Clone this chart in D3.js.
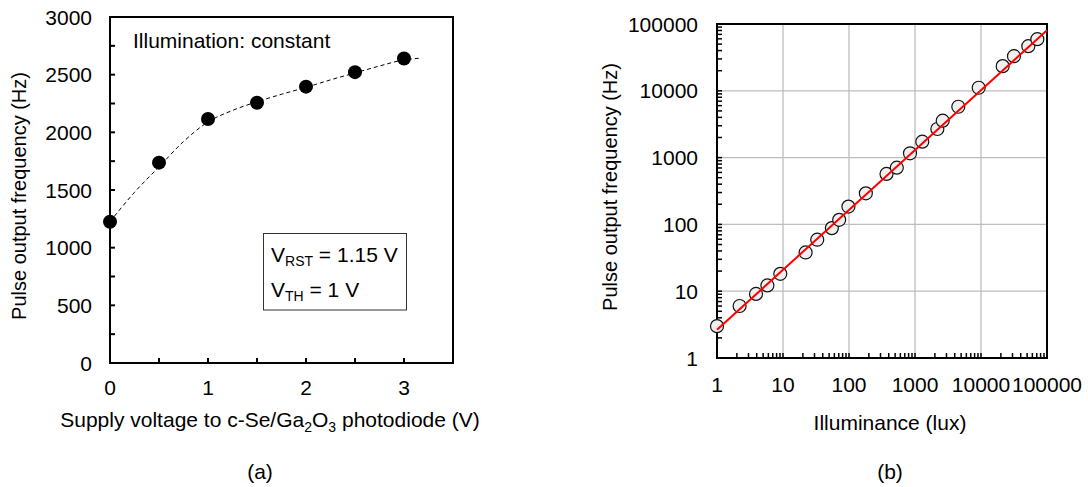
<!DOCTYPE html>
<html>
<head>
<meta charset="utf-8">
<script src="https://cdn.jsdelivr.net/npm/d3@7"></script>
<style>
  body { margin: 0; background: #fff; }
  svg { font-family: "Liberation Sans", Arial, sans-serif; }
</style>
</head>
<body>
<svg width="1088" height="487"></svg>
<script>
// Data (a): frequency vs supply voltage
var voltage = [0, 0.5, 1, 1.5, 2, 2.5, 3];
var freqA = [1225, 1737, 2115, 2257, 2396, 2522, 2640];
// dashed guide curve
var fitVoltage = [0, 0.25, 0.5, 0.75, 1, 1.25, 1.5, 1.75, 2, 2.25, 2.5, 2.75, 3, 3.15];
var fitFreqA = [1225, 1480, 1700, 1920, 2090, 2190, 2265, 2330, 2390, 2455, 2515, 2575, 2628, 2642];
var ticksA_x = [0, 1, 2, 3];
var ticksA_y = [0, 500, 1000, 1500, 2000, 2500, 3000];

// Data (b): frequency vs illuminance
var lux = [1, 2.2, 3.9, 5.8, 9.1, 22, 33, 55, 71, 98, 180, 370, 530, 840, 1290, 2180, 2630, 4530, 9230, 21300, 31600, 52100, 71300];
var freqB = [3.0, 6.0, 9.1, 12.2, 18.2, 38, 59, 88, 117, 185, 292, 570, 707, 1160, 1730, 2680, 3570, 5770, 11100, 23400, 33000, 46600, 59300];
var fitLux = [1, 100000];
var fitFreqB = [2.65, 80700];
var decades = [1, 10, 100, 1000, 10000, 100000];

var svg = d3.select("svg");

// ---------- panel (a) ----------
var xA = d3.scaleLinear().domain([0, 3.5]).range([110, 453]);
var yA = d3.scaleLinear().domain([0, 3000]).range([363, 17]);

var gA = svg.append("g");

// minor + major ticks, inside
gA.selectAll(".xt").data(d3.range(0.5, 3.5, 0.5)).enter().append("line")
  .attr("x1", d => xA(d)).attr("x2", d => xA(d))
  .attr("y1", yA(0)).attr("y2", yA(0) - 5)
  .attr("stroke", "#000").attr("stroke-width", 2);
gA.selectAll(".yt").data(d3.range(250, 3000, 250)).enter().append("line")
  .attr("x1", xA(0)).attr("x2", xA(0) + 5)
  .attr("y1", d => yA(d)).attr("y2", d => yA(d))
  .attr("stroke", "#000").attr("stroke-width", 2);

gA.append("rect")
  .attr("x", xA(0)).attr("y", yA(3000))
  .attr("width", xA(3.5) - xA(0)).attr("height", yA(0) - yA(3000))
  .attr("fill", "none").attr("stroke", "#000").attr("stroke-width", 2);

gA.selectAll(".xl").data(ticksA_x).enter().append("text")
  .attr("x", d => xA(d)).attr("y", 395)
  .attr("text-anchor", "middle").attr("font-size", 21)
  .text(d => d);
gA.selectAll(".yl").data(ticksA_y).enter().append("text")
  .attr("x", 92).attr("y", d => yA(d)).attr("dy", "0.36em")
  .attr("text-anchor", "end").attr("font-size", 21)
  .text(d => d);

// dashed curve
var fitA = fitVoltage.map((v, i) => [v, fitFreqA[i]]);
gA.append("path")
  .datum(fitA)
  .attr("d", d3.line().x(d => xA(d[0])).y(d => yA(d[1])).curve(d3.curveMonotoneX))
  .attr("fill", "none").attr("stroke", "#000").attr("stroke-width", 1)
  .attr("stroke-dasharray", "4,3");

gA.selectAll(".dot").data(voltage).enter().append("circle")
  .attr("cx", d => xA(d)).attr("cy", (d, i) => yA(freqA[i]))
  .attr("r", 7).attr("fill", "#000");

gA.append("text")
  .attr("x", 133).attr("y", 48).attr("font-size", 21)
  .text("Illumination: constant");

// parameter box
gA.append("rect")
  .attr("x", 263.5).attr("y", 233.5).attr("width", 143).attr("height", 76.5)
  .attr("fill", "#fff").attr("stroke", "#333").attr("stroke-width", 1);
var t1 = gA.append("text").attr("x", 271).attr("y", 262).attr("font-size", 21);
t1.append("tspan").text("V");
t1.append("tspan").attr("font-size", 14).attr("dy", 4).text("RST");
t1.append("tspan").attr("dy", -4).text(" = 1.15 V");
var t2 = gA.append("text").attr("x", 271).attr("y", 297).attr("font-size", 21);
t2.append("tspan").text("V");
t2.append("tspan").attr("font-size", 14).attr("dy", 4).text("TH");
t2.append("tspan").attr("dy", -4).text(" = 1 V");

var xlabA = gA.append("text")
  .attr("x", 270).attr("y", 427).attr("text-anchor", "middle").attr("font-size", 21);
xlabA.append("tspan").text("Supply voltage to c-Se/Ga");
xlabA.append("tspan").attr("font-size", 14).attr("dy", 5).text("2");
xlabA.append("tspan").attr("dy", -5).text("O");
xlabA.append("tspan").attr("font-size", 14).attr("dy", 5).text("3");
xlabA.append("tspan").attr("dy", -5).text(" photodiode (V)");

gA.append("text")
  .attr("transform", "translate(26,196) rotate(-90)")
  .attr("text-anchor", "middle").attr("font-size", 20)
  .text("Pulse output frequency (Hz)");

gA.append("text")
  .attr("x", 260).attr("y", 479).attr("text-anchor", "middle").attr("font-size", 21)
  .text("(a)");

// ---------- panel (b) ----------
var xB = d3.scaleLog().domain([1, 100000]).range([717, 1047]);
var yB = d3.scaleLog().domain([1, 100000]).range([358, 24]);

var gB = svg.append("g");

// grid
gB.selectAll(".gx").data(decades.slice(1, -1)).enter().append("line")
  .attr("x1", d => xB(d)).attr("x2", d => xB(d))
  .attr("y1", yB(1)).attr("y2", yB(100000))
  .attr("stroke", "#bdbdbd").attr("stroke-width", 1.3);
gB.selectAll(".gy").data(decades.slice(1, -1)).enter().append("line")
  .attr("x1", xB(1)).attr("x2", xB(100000))
  .attr("y1", d => yB(d)).attr("y2", d => yB(d))
  .attr("stroke", "#bdbdbd").attr("stroke-width", 1.3);

// log ticks inside
var logTicks = [];
decades.slice(0, -1).forEach(function (d) {
  for (var k = 2; k <= 10; k++) logTicks.push(d * k);
});
gB.selectAll(".bxt").data(logTicks).enter().append("line")
  .attr("x1", d => xB(d)).attr("x2", d => xB(d))
  .attr("y1", yB(1)).attr("y2", yB(1) - 5)
  .attr("stroke", "#000").attr("stroke-width", 1.5);
gB.selectAll(".byt").data(logTicks).enter().append("line")
  .attr("x1", xB(1)).attr("x2", xB(1) + 5)
  .attr("y1", d => yB(d)).attr("y2", d => yB(d))
  .attr("stroke", "#000").attr("stroke-width", 1.5);

gB.append("rect")
  .attr("x", xB(1)).attr("y", yB(100000))
  .attr("width", xB(100000) - xB(1)).attr("height", yB(1) - yB(100000))
  .attr("fill", "none").attr("stroke", "#000").attr("stroke-width", 2);

gB.selectAll(".bxl").data(decades).enter().append("text")
  .attr("x", d => xB(d)).attr("y", 392)
  .attr("text-anchor", "middle").attr("font-size", 21)
  .text(d => d);
gB.selectAll(".byl").data(decades).enter().append("text")
  .attr("x", 698).attr("y", d => yB(d)).attr("dy", "0.36em")
  .attr("text-anchor", "end").attr("font-size", 21)
  .text(d => d);

gB.selectAll(".odot").data(lux).enter().append("circle")
  .attr("cx", d => xB(d)).attr("cy", (d, i) => yB(freqB[i]))
  .attr("r", 6.5).attr("fill", "#efefef").attr("stroke", "#111").attr("stroke-width", 1.2);

var fitB = fitLux.map((v, i) => [v, fitFreqB[i]]);
gB.append("path")
  .datum(fitB)
  .attr("d", d3.line().x(d => xB(d[0])).y(d => yB(d[1])))
  .attr("fill", "none").attr("stroke", "#ff0000").attr("stroke-width", 2);

gB.append("text")
  .attr("x", 890).attr("y", 430).attr("text-anchor", "middle").attr("font-size", 21)
  .text("Illuminance (lux)");

gB.append("text")
  .attr("transform", "translate(617,187) rotate(-90)")
  .attr("text-anchor", "middle").attr("font-size", 20)
  .text("Pulse output frequency (Hz)");

gB.append("text")
  .attr("x", 890).attr("y", 479).attr("text-anchor", "middle").attr("font-size", 21)
  .text("(b)");
</script>
</body>
</html>
